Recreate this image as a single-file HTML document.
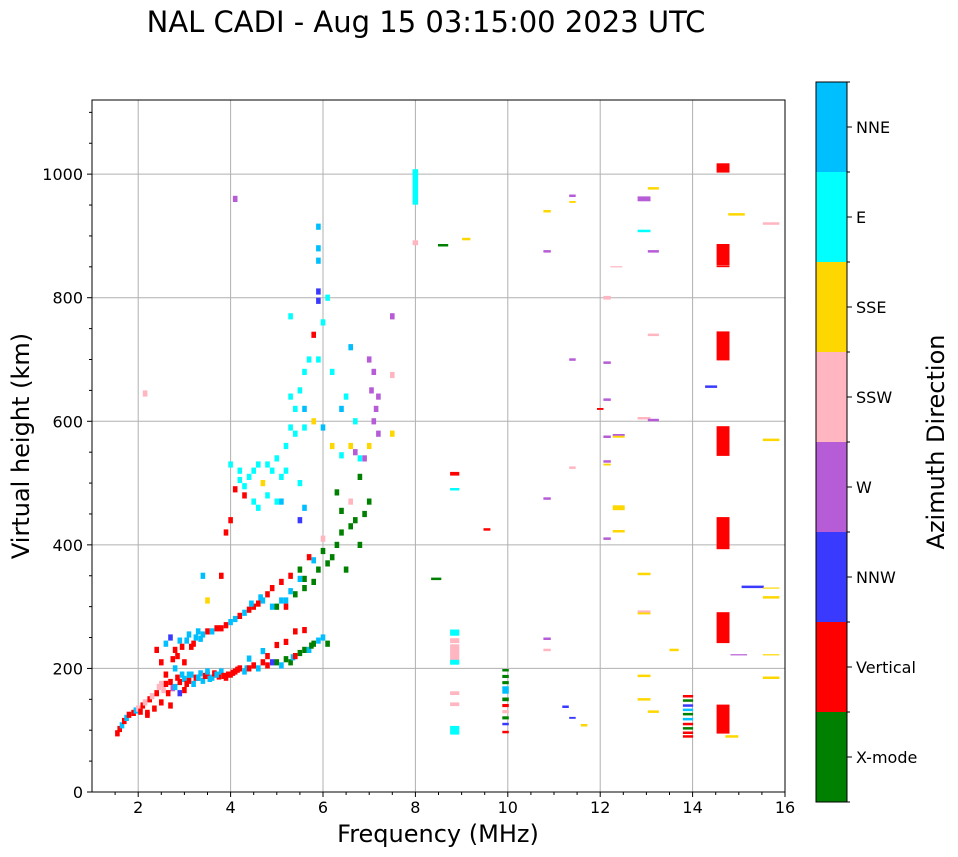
<!DOCTYPE html>
<html><head><meta charset="utf-8">
<style>
html,body{margin:0;padding:0;background:#fff;}
svg{display:block;font-family:"DejaVu Sans","Liberation Sans",sans-serif;}
</style></head>
<body>
<svg id="chart" width="958" height="857" viewBox="0 0 958 857">
<text x="426" y="32" font-size="29" text-anchor="middle">NAL CADI - Aug 15 03:15:00 2023 UTC</text>
<g id="grid"></g>
<g id="marks"></g>
<rect x="92" y="100" width="693" height="692" fill="none" stroke="#000" stroke-width="1"/>
<g id="axes"></g>
<text x="438" y="842" font-size="24" text-anchor="middle">Frequency (MHz)</text>
<text x="0" y="0" font-size="24" text-anchor="middle" transform="translate(29,446) rotate(-90)">Virtual height (km)</text>
<g id="cbar"></g>
<text x="0" y="0" font-size="24" text-anchor="middle" transform="translate(944,442) rotate(-90)">Azimuth Direction</text>
</svg>
<script>
const xTicks = [2,4,6,8,10,12,14,16];
const yTicks = [0,200,400,600,800,1000];
const dirNames = ["X-mode","Vertical","NNW","W","SSW","SSE","E","NNE"];
const dirColors = ["#008000","#ff0000","#3a3aff","#b65cd6","#ffb6c1","#ffd700","#00ffff","#00bfff"];
// each echo: [frequency MHz, virtual height km, direction index, width MHz (0=default), height span km (0=default)]
const echoes = [
[1.55,95,1,0,0],[1.6,102,1,0,0],[1.65,108,7,0,0],[1.7,115,1,0,0],[1.75,120,7,0,0],[1.8,125,1,0,0],[1.9,128,1,0,0],[1.95,132,7,0,0],[2.0,135,4,0,0],[2.05,130,1,0,0],[2.1,140,1,0,0],[2.15,145,4,0,0],[2.2,128,1,0,0],[2.25,150,1,0,0],[2.3,155,4,0,0],[2.35,135,1,0,0],[2.4,160,1,0,0],[2.45,170,4,0,0],[2.5,145,1,0,0],[2.55,165,4,0,0],[2.6,175,1,0,0],[2.65,160,1,0,0],[2.7,178,1,0,0],[2.75,168,3,0,0],[2.8,170,7,0,0],[2.85,185,1,0,0],[2.9,178,1,0,0],[2.95,190,7,0,0],[3.0,183,7,0,0],[3.05,175,1,0,0],[3.1,180,1,0,0],[3.15,190,7,0,0],[3.2,175,7,0,0],[3.25,185,1,0,0],[3.3,185,1,0,0],[3.35,192,7,0,0],[3.4,180,7,0,0],[3.45,188,1,0,0],[3.5,190,1,0,0],[3.55,183,7,0,0],[3.6,185,7,0,0],[3.65,192,1,0,0],[3.7,190,1,0,0],[3.75,187,1,0,0],[3.8,195,7,0,0],[3.85,188,1,0,0],[3.9,185,1,0,0],[3.95,190,1,0,0],[4.0,190,1,0,0],[4.05,193,1,0,0],[4.1,195,1,0,0],[4.15,198,1,0,0],[4.2,200,1,0,0],[4.3,195,7,0,0],[4.35,200,7,0,0],[4.4,200,1,0,0],[4.5,205,1,0,0],[4.6,200,7,0,0],[4.7,210,1,0,0],[4.8,205,1,0,0],[4.9,210,2,0,0],[5.0,210,0,0,0],[5.1,205,7,0,0],[5.2,215,0,0,0],[5.3,210,0,0,0],[5.35,218,7,0,0],[5.4,220,1,0,0],[5.5,225,0,0,0],[5.6,230,0,0,0],[5.7,230,7,0,0],[5.75,237,0,0,0],[5.8,240,0,0,0],[5.9,245,7,0,0],[6.0,250,7,0,0],[6.1,240,0,0,0],[4.4,216,7,0,0],[4.7,228,7,0,0],[5.0,238,1,0,0],[5.2,243,1,0,0],[5.4,260,1,0,0],[5.6,262,1,0,0],[4.8,220,1,0,0],
[2.4,230,1,0,0],[2.5,210,1,0,0],[2.6,240,7,0,0],[2.7,250,2,0,0],[2.8,230,1,0,0],[2.9,245,7,0,0],[3.0,210,1,0,0],[3.1,255,7,0,0],[3.2,240,1,0,0],[3.3,260,7,0,0],[2.6,190,1,0,0],[2.8,200,7,0,0],[3.0,165,1,0,0],[2.7,140,1,0,0],[2.2,125,1,0,0],[3.1,190,7,0,0],[3.3,185,7,0,0],[3.5,195,7,0,0],[3.7,190,7,0,0],[2.5,175,4,0,0],[2.9,160,2,0,0],[2.85,220,1,0,0],[2.95,235,1,0,0],[3.05,245,7,0,0],[3.15,235,1,0,0],[2.75,215,1,0,0],[3.25,250,7,0,0],[3.35,248,7,0,0],
[3.4,255,7,0,0],[3.5,260,1,0,0],[3.6,260,7,0,0],[3.7,265,1,0,0],[3.8,265,1,0,0],[3.9,270,1,0,0],[4.0,275,7,0,0],[4.1,280,7,0,0],[4.2,285,1,0,0],[4.3,290,7,0,0],[4.4,295,1,0,0],[4.5,300,1,0,0],[4.6,305,1,0,0],[4.7,310,7,0,0],[4.8,320,1,0,0],[4.9,330,1,0,0],[5.0,300,0,0,0],[5.1,340,1,0,0],[5.2,310,7,0,0],[5.3,350,1,0,0],[5.4,320,0,0,0],[5.5,360,0,0,0],[5.6,330,0,0,0],[5.7,380,1,0,0],[5.8,340,0,0,0],[5.9,360,0,0,0],[6.0,390,0,0,0],[6.1,370,0,0,0],[6.2,380,0,0,0],[6.3,400,0,0,0],[6.4,420,0,0,0],[6.5,360,0,0,0],[6.6,430,0,0,0],[6.7,440,0,0,0],[6.8,400,0,0,0],[6.9,450,0,0,0],[7.0,470,0,0,0],[3.4,350,7,0,0],[3.5,310,5,0,0],[3.8,350,1,0,0],[3.9,420,1,0,0],[4.0,440,1,0,0],[5.5,440,2,0,0],[5.6,460,7,0,0],[5.2,300,1,0,0],[5.6,345,0,0,0],[6.3,485,0,0,0],[6.6,470,4,0,0],[6.8,510,0,0,0],[4.45,305,7,0,0],[4.65,315,7,0,0],[4.9,300,7,0,0],[5.1,310,7,0,0],[5.3,325,7,0,0],[5.5,345,7,0,0],[5.8,375,7,0,0],[6.0,410,4,0,0],[6.4,455,0,0,0],
[4.0,530,6,0,0],[4.1,490,1,0,0],[4.2,520,6,0,0],[4.3,480,1,0,0],[4.4,510,6,0,0],[4.5,470,6,0,0],[4.6,530,6,0,0],[4.7,500,5,0,0],[4.8,480,6,0,0],[4.9,520,6,0,0],[5.0,540,6,0,0],[5.1,510,6,0,0],[5.2,560,6,0,0],[5.3,590,6,0,0],[5.4,620,6,0,0],[5.5,650,6,0,0],[5.6,680,6,0,0],[5.7,700,6,0,0],[5.8,740,1,0,0],[5.9,700,6,0,0],[6.0,760,6,0,0],[6.1,800,6,0,0],[5.4,580,6,0,0],[5.6,620,7,0,0],[5.8,600,5,0,0],[6.0,590,7,0,0],[6.2,560,5,0,0],[6.4,620,7,0,0],[6.6,560,5,0,0],[6.8,540,6,0,0],[7.0,560,5,0,0],[7.1,600,3,0,0],[7.2,640,3,0,0],[7.1,680,3,0,0],[7.0,700,3,0,0],[7.2,580,3,0,0],[5.9,880,7,0,0],[5.9,915,7,0,0],[5.9,860,7,0,0],[5.9,810,2,0,0],[5.9,795,2,0,0],[5.3,770,6,0,0],[4.1,960,3,0,0],[2.15,645,4,0,0],[6.6,720,7,0,0],[7.5,770,3,0,0],[7.5,675,4,0,0],[7.5,580,5,0,0],[6.2,680,6,0,0],[6.5,640,6,0,0],[4.3,495,6,0,0],[4.6,460,6,0,0],[5.0,470,6,0,0],[5.2,520,6,0,0],[6.4,545,6,0,0],[6.7,600,6,0,0],[7.05,650,3,0,0],[7.15,620,3,0,0],[4.2,505,6,0,0],[4.5,520,6,0,0],[4.8,530,6,0,0],[5.1,470,7,0,0],[5.5,500,6,0,0],[5.3,640,6,0,0],[5.6,590,6,0,0],[6.7,550,3,0,0],[6.9,540,3,0,0],
[8.0,978,6,0.12,55],[8.0,1003,6,0.12,10],[8.0,889,4,0.12,8],[8.6,885,0,0.22,4],[9.1,895,5,0.18,4],[8.85,515,1,0.2,6],[8.85,490,6,0.2,4],[9.55,425,1,0.15,4],[8.45,345,0,0.22,4],[8.85,258,6,0.2,10],[8.85,245,4,0.2,8],[8.85,225,4,0.2,28],[8.85,210,6,0.2,8],[8.85,160,4,0.2,6],[8.85,142,4,0.2,6],[8.85,100,6,0.2,14],
[9.95,197,0,0.14,4],[9.95,187,0,0.14,5],[9.95,177,0,0.14,5],[9.95,165,7,0.14,12],[9.95,150,0,0.14,6],[9.95,140,1,0.14,5],[9.95,130,4,0.14,5],[9.95,120,0,0.14,5],[9.95,110,2,0.14,4],[9.95,97,1,0.14,4],
[10.85,940,5,0.16,4],[10.85,875,3,0.16,4],[10.85,475,3,0.16,4],[10.85,248,3,0.16,4],[10.85,230,4,0.16,4],[11.25,138,2,0.14,4],[11.4,965,3,0.14,4],[11.4,955,5,0.14,3],[11.4,700,3,0.14,4],[11.4,525,4,0.14,4],[11.4,120,2,0.14,3],[11.65,108,5,0.14,4],[12.0,620,1,0.14,3],[12.15,800,4,0.16,6],[12.15,695,3,0.16,4],[12.15,635,3,0.16,4],[12.15,575,3,0.16,4],[12.15,535,3,0.16,4],[12.15,530,5,0.16,3],[12.15,410,3,0.16,4],[12.35,850,4,0.26,2],[12.4,578,3,0.26,3],[12.4,575,5,0.26,3],[12.4,460,5,0.26,8],[12.4,422,5,0.26,4],[12.95,960,3,0.28,8],[12.95,908,6,0.28,4],[12.95,605,4,0.28,4],[12.95,353,5,0.28,4],[12.95,292,4,0.28,4],[12.95,289,5,0.28,3],[12.95,188,5,0.28,4],[12.95,150,5,0.28,4],[13.15,977,5,0.24,4],[13.15,875,3,0.24,4],[13.15,740,4,0.24,4],[13.15,602,3,0.24,4],[13.15,130,5,0.24,4],[13.6,230,5,0.2,4],[14.85,90,5,0.28,4],[14.4,656,2,0.26,4],[14.95,935,5,0.36,4],[15.3,332,2,0.48,4],[15.0,222,3,0.36,2],[15.7,920,4,0.36,4],[15.7,570,5,0.36,4],[15.7,330,5,0.36,2],[15.7,315,5,0.36,4],[15.7,222,5,0.36,2],[15.7,185,5,0.36,4],
[13.9,155,1,0.22,4],[13.9,148,0,0.22,4],[13.9,140,2,0.22,4],[13.9,133,7,0.22,4],[13.9,126,0,0.22,4],[13.9,118,7,0.22,4],[13.9,110,1,0.22,4],[13.9,103,0,0.22,4],[13.9,96,1,0.22,4],[13.9,90,1,0.22,4],
[14.66,1010,1,0.28,15],[14.66,870,1,0.28,34],[14.66,851,1,0.28,3],[14.66,722,1,0.28,47],[14.66,568,1,0.28,48],[14.66,419,1,0.28,52],[14.66,266,1,0.28,50],[14.66,118,1,0.28,47]
];

const X0=92,X1=785,Y0=792,Y1=100;
function xs(f){return X0+(f-1)/(16-1)*(X1-X0);}
function ys(h){return Y0-h/1120*(Y0-Y1);}
const NS="http://www.w3.org/2000/svg";
function mk(tag,attrs,parent){const e=document.createElementNS(NS,tag);for(const k in attrs)e.setAttribute(k,attrs[k]);parent.appendChild(e);return e;}
const grid=document.getElementById('grid'),axes=document.getElementById('axes'),marks=document.getElementById('marks'),cbar=document.getElementById('cbar');
xTicks.forEach(t=>{
  const x=xs(t);
  if(t<16){const l=mk('line',{x1:x,x2:x,y1:Y1,y2:Y0,stroke:'#b0b0b0','stroke-width':1},grid);
  
  }
  mk('line',{x1:x,x2:x,y1:Y0,y2:Y0+5,stroke:'#000'},axes);
  const tx=mk('text',{x:x,y:Y0+21,'font-size':16,'text-anchor':'middle'},axes);tx.textContent=t;
  
  
});
for(let f=1.5;f<16;f+=0.5){if(f%2!==0){const x=xs(f);mk('line',{x1:x,x2:x,y1:Y0,y2:Y0+3,stroke:'#000'},axes);}}
yTicks.forEach(t=>{
  const y=ys(t);
  if(t>0){const l=mk('line',{x1:X0,x2:X1,y1:y,y2:y,stroke:'#b0b0b0','stroke-width':1},grid);
  
  }
  mk('line',{x1:X0-5,x2:X0,y1:y,y2:y,stroke:'#000'},axes);
  const tx=mk('text',{x:X0-9,y:y+6,'font-size':16,'text-anchor':'end'},axes);tx.textContent=t;
  
  
});
for(let h=50;h<1120;h+=50){if(h%200!==0){const y=ys(h);mk('line',{x1:X0-3,x2:X0,y1:y,y2:y,stroke:'#000'},axes);}}
echoes.forEach(e=>{
  const f=e[0],h=e[1],d=e[2],wm=e[3]||0.1,sp=e[4]||10;
  const w=(wm/15)*(X1-X0), hh=sp/1120*(Y0-Y1);
  const r=mk('rect',{x:(xs(f)-w/2).toFixed(1),y:(ys(h)-hh/2).toFixed(1),width:w.toFixed(1),height:hh.toFixed(1),fill:dirColors[d]},marks);
  
  
});
const CB0=82,CBH=90;
dirNames.forEach((n,i)=>{
  const y=CB0+(7-i)*CBH;
  const r=mk('rect',{x:816,y:y,width:31,height:CBH,fill:dirColors[i]},cbar);
  
  
  mk('line',{x1:847,x2:852,y1:y+CBH/2,y2:y+CBH/2,stroke:'#000'},cbar);
  const tx=mk('text',{x:856,y:y+CBH/2+6,'font-size':16},cbar);tx.textContent=n;
  
  
});
for(let i=0;i<=8;i++){mk('line',{x1:847,x2:850,y1:CB0+i*CBH,y2:CB0+i*CBH,stroke:'#000'},cbar);}
mk('rect',{x:816,y:CB0,width:31,height:8*CBH,fill:'none',stroke:'#000'},cbar);
</script>
</body></html>
